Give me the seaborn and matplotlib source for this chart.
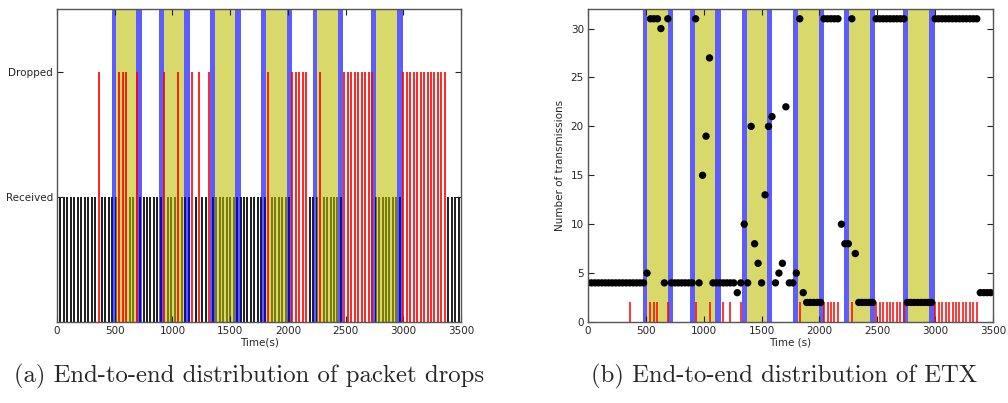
import matplotlib
matplotlib.use("Agg")
import matplotlib.pyplot as plt
import seaborn as sns
import pandas as pd

# ---------------- data ----------------
packet_times = [0, 30, 60, 90, 120, 150, 180, 210, 240, 270, 300, 330, 360, 390, 420, 450,
                480, 510, 540, 570, 600, 630, 660, 690, 720, 750, 780, 810, 840, 870, 900,
                930, 960, 990, 1020, 1050, 1080, 1110, 1140, 1170, 1200, 1230, 1260, 1290,
                1320, 1350, 1380, 1410, 1440, 1470, 1500, 1530, 1560, 1590, 1620, 1650, 1680,
                1710, 1740, 1770, 1800, 1830, 1860, 1890, 1920, 1950, 1980, 2010, 2040, 2070,
                2100, 2130, 2160, 2190, 2220, 2250, 2280, 2310, 2340, 2370, 2400, 2430, 2460,
                2490, 2520, 2550, 2580, 2610, 2640, 2670, 2700, 2730, 2760, 2790, 2820, 2850,
                2880, 2910, 2940, 2970, 3000, 3030, 3060, 3090, 3120, 3150, 3180, 3210, 3240,
                3270, 3300, 3330, 3360, 3390, 3420, 3450, 3480]

dropped_times = [360, 540, 570, 600, 690, 930, 1050, 1170, 1230, 1320, 1830,
                 2040, 2070, 2100, 2130, 2160, 2280,
                 2490, 2520, 2550, 2580, 2610, 2640, 2670, 2700, 2730,
                 3000, 3030, 3060, 3090, 3120, 3150, 3180, 3210, 3240, 3270, 3300, 3330, 3360]

etx_values = [4, 4, 4, 4, 4, 4, 4, 4, 4, 4, 4, 4, 4, 4, 4, 4, 4,
              5, 31, 31, 31, 30, 4, 31, 4, 4, 4, 4, 4, 4, 4, 31, 4, 15, 19, 27,
              4, 4, 4, 4, 4, 4, 4, 3, 4, 10, 4, 20, 8, 6, 4, 13, 20, 21, 4, 5, 6, 22,
              4, 4, 5, 31, 3, 2, 2, 2, 2, 2, 31, 31, 31, 31, 31, 10, 8, 8, 31, 7,
              2, 2, 2, 2, 2, 31, 31, 31, 31, 31, 31, 31, 31, 31,
              2, 2, 2, 2, 2, 2, 2, 2,
              31, 31, 31, 31, 31, 31, 31, 31, 31, 31, 31, 31, 31,
              3, 3, 3, 3]

# mobility periods: blue edges + yellow middle
blue_start = [474, 884, 1328, 1770, 2216, 2723]
yellow_start = [511, 923, 1370, 1811, 2256, 2765]
yellow_end = [688, 1100, 1545, 1993, 2434, 2946]
blue_end = [735, 1152, 1593, 2040, 2482, 2995]

x_ticks = [0, 500, 1000, 1500, 2000, 2500, 3000, 3500]
state_ticks = [1, 2]
state_labels = ["Received", "Dropped"]
etx_ticks = [0, 5, 10, 15, 20, 25, 30]
drop_marker_height = 2

captions = ["(a) End-to-end distribution of packet drops",
            "(b) End-to-end distribution of ETX"]

# ---------------- figure ----------------
sns.set_style("ticks")
plt.rcParams["font.family"] = ["DejaVu Sans"]

fig = plt.figure(figsize=(10.08, 4.03), dpi=100)
ax1 = fig.add_axes([57 / 1008, 81 / 403, 404 / 1008, 313 / 403])
ax2 = fig.add_axes([588 / 1008, 81 / 403, 405 / 1008, 313 / 403])

BLUE = (0.0, 0.0, 1.0)
YELLOW = (0.75, 0.75, 0.0)

received_times = [t for t in packet_times if t not in dropped_times]

for ax in (ax1, ax2):
    for bs, ys, ye, be in zip(blue_start, yellow_start, yellow_end, blue_end):
        ax.axvspan(bs, ys, color=BLUE, alpha=0.64, lw=0, zorder=2)
        ax.axvspan(ys, ye, color=YELLOW, alpha=0.58, lw=0, zorder=2)
        ax.axvspan(ye, be, color=BLUE, alpha=0.64, lw=0, zorder=2)

# left panel: packet state
ax1.vlines(received_times, 0, 1, colors="black", lw=1.25, zorder=1)
ax1.vlines(dropped_times, 0, 2, colors="red", lw=1.2, zorder=3)
ax1.set_ylim(0, 2.5)
ax1.set_yticks(state_ticks)
ax1.set_yticklabels(state_labels)
ax1.set_xlabel("Time(s)", fontsize=7.5, labelpad=1)

# right panel: ETX
df = pd.DataFrame({"time": packet_times, "etx": etx_values})
sns.scatterplot(data=df, x="time", y="etx", ax=ax2, color="black", s=28,
                edgecolor="none", linewidth=0, zorder=4, legend=False)
ax2.vlines(dropped_times, 0, drop_marker_height, colors="red", lw=1.1, zorder=3)
ax2.set_ylim(0, 32)
ax2.set_yticks(etx_ticks)
ax2.set_xlabel("Time (s)", fontsize=7.5, labelpad=1)
ax2.set_ylabel("Number of transmissions", fontsize=7.5, labelpad=4)

for ax in (ax1, ax2):
    ax.set_axisbelow(False)
    ax.set_xlim(0, 3500)
    ax.set_xticks(x_ticks)
    ax.tick_params(direction="in", length=4, width=0.8, labelsize=7.5,
                   top=True, right=True, pad=3, color="#222222")
    for sp in ax.spines.values():
        sp.set_visible(True)
        sp.set_color("#555555")
        sp.set_linewidth(1.0)
        sp.set_zorder(6)

fig.text(249 / 1008, 1 - 376 / 403, captions[0], ha="center", va="center",
         fontsize=17.8, family=["cmr10", "DejaVu Serif"])
fig.text(784 / 1008, 1 - 376 / 403, captions[1], ha="center", va="center",
         fontsize=17.8, family=["cmr10", "DejaVu Serif"])

fig.savefig("out.png", dpi=100)
